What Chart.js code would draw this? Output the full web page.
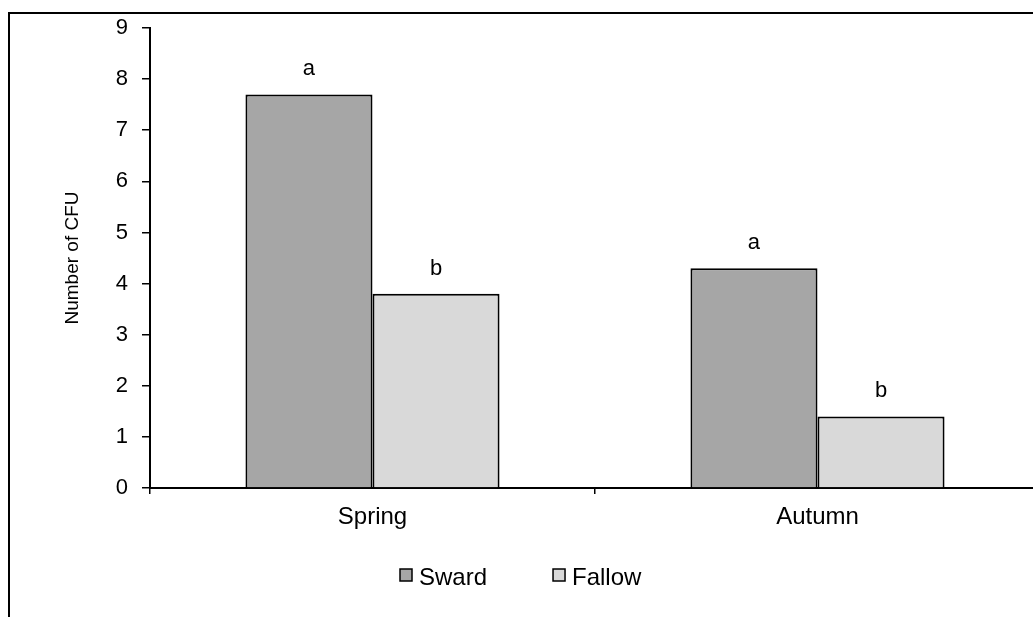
<!DOCTYPE html>
<html>
<head>
<meta charset="utf-8">
<script src="https://cdn.jsdelivr.net/npm/chart.js@4/dist/chart.umd.min.js"></script>
<style>
  html, body { margin: 0; padding: 0; background: #fff; overflow: hidden; }
  #wrap { width: 1040px; height: 617px; }
</style>
</head>
<body>
<div id="wrap"><canvas id="cfuChart" width="1040" height="617"></canvas></div>
<script>
// CFU counts by season and land use
const seasons = ['Spring', 'Autumn'];
const swardCfu = [7.7, 4.3];
const fallowCfu = [3.8, 1.4];
const swardLetters = ['a', 'a'];
const fallowLetters = ['b', 'b'];
const yTicks = [0, 1, 2, 3, 4, 5, 6, 7, 8, 9];

const FONT = '"Liberation Sans", Arial, sans-serif';

// outer frame (left and top edges are visible in the picture)
const framePlugin = {
    id: 'frame',
    beforeDraw(chart) {
        const ctx = chart.ctx;
        ctx.save();
        ctx.strokeStyle = '#000';
        ctx.lineWidth = 2;
        ctx.beginPath();
        ctx.moveTo(9, chart.height);
        ctx.lineTo(9, 13);
        ctx.lineTo(chart.width, 13);
        ctx.stroke();
        ctx.restore();
    }
};

// significance letters above each bar
const lettersPlugin = {
    id: 'letters',
    afterDatasetsDraw(chart) {
        const ctx = chart.ctx;
        const letterSets = [swardLetters, fallowLetters];
        ctx.save();
        ctx.font = '22px ' + FONT;
        ctx.fillStyle = '#000';
        ctx.textAlign = 'center';
        ctx.textBaseline = 'alphabetic';
        chart.data.datasets.forEach((ds, i) => {
            chart.getDatasetMeta(i).data.forEach((bar, j) => {
                ctx.fillText(letterSets[i][j], bar.x, bar.y - 19);
            });
        });
        ctx.restore();
    }
};

// legend drawn under the axis
const legendPlugin = {
    id: 'bottomLegend',
    afterDraw(chart) {
        const ctx = chart.ctx;
        const box = 12, gap = 7, itemGap = 66, centerX = 521, midY = 577;
        ctx.save();
        ctx.font = '24px ' + FONT;
        const items = chart.data.datasets.map(ds => ({
            label: ds.label, color: ds.backgroundColor,
            w: box + gap + ctx.measureText(ds.label).width
        }));
        const total = items.reduce((s, it) => s + it.w, 0) + itemGap * (items.length - 1);
        let x = Math.round(centerX - total / 2);
        items.forEach(it => {
            ctx.fillStyle = it.color;
            ctx.fillRect(x, midY - box / 2 - 2, box, box);
            ctx.strokeStyle = '#000';
            ctx.lineWidth = 1.5;
            ctx.strokeRect(x, midY - box / 2 - 2, box, box);
            ctx.fillStyle = '#000';
            ctx.textBaseline = 'middle';
            ctx.textAlign = 'left';
            ctx.fillText(it.label, x + box + gap, midY + 1);
            x += it.w + itemGap;
        });
        ctx.restore();
    }
};

const ctx = document.getElementById('cfuChart').getContext('2d');
new Chart(ctx, {
    type: 'bar',
    data: {
        labels: seasons,
        datasets: [
            { label: 'Sward', data: swardCfu, backgroundColor: '#a6a6a6', borderColor: '#000', borderWidth: 2 },
            { label: 'Fallow', data: fallowCfu, backgroundColor: '#d9d9d9', borderColor: '#000', borderWidth: 2 }
        ]
    },
    options: {
        responsive: false,
        animation: false,
        layout: { padding: { top: 28, right: 0, bottom: 0, left: 0 } },
        datasets: { bar: { categoryPercentage: 0.571, barPercentage: 1.0 } },
        plugins: { legend: { display: false }, tooltip: { enabled: false } },
        scales: {
            x: {
                grid: { drawOnChartArea: false, color: '#000', lineWidth: 1.5, tickLength: 6 },
                border: { color: '#000', width: 2 },
                ticks: { color: '#000', font: { family: FONT, size: 24 }, padding: 9 },
                afterFit(scale) { scale.height = 129; }
            },
            y: {
                min: 0,
                max: 9,
                afterBuildTicks(scale) { scale.ticks = yTicks.map(v => ({ value: v })); },
                grid: { drawOnChartArea: false, color: '#000', lineWidth: 1.5, tickLength: 8 },
                border: { color: '#000', width: 2 },
                ticks: { color: '#000', font: { family: FONT, size: 22 }, padding: 14 },
                title: {
                    display: true, text: 'Number of CFU', color: '#000',
                    font: { family: FONT, size: 19 }, padding: { top: 61, bottom: 0 }
                },
                afterFit(scale) { scale.width = 150; }
            }
        }
    },
    plugins: [framePlugin, lettersPlugin, legendPlugin]
});
</script>
</body>
</html>
